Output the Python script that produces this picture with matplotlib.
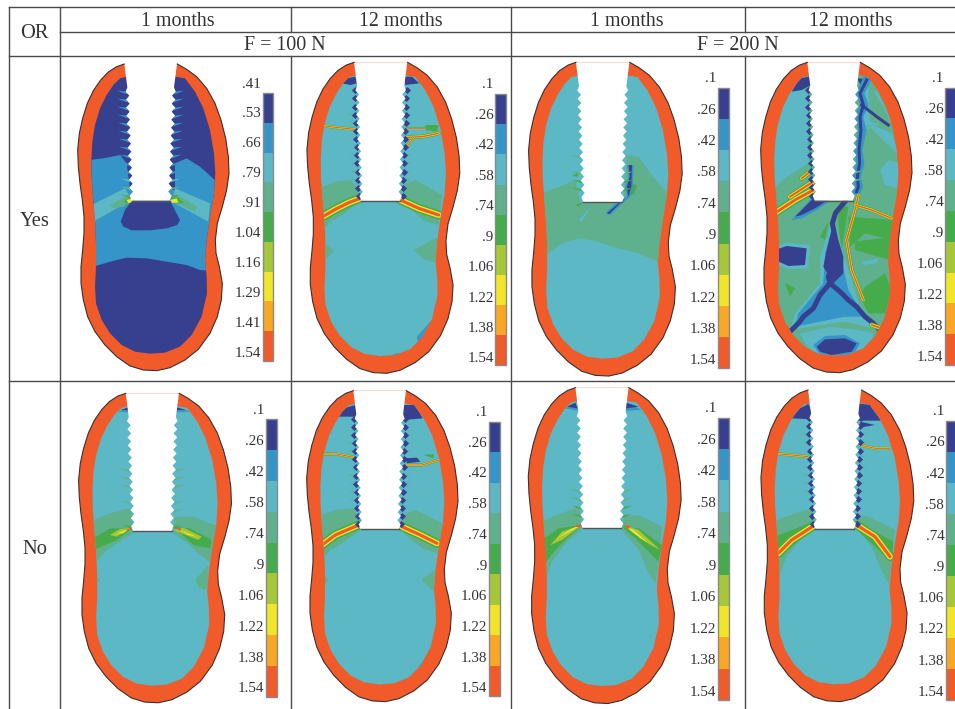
import matplotlib
matplotlib.use('Agg')
import matplotlib.pyplot as plt
import numpy as np
from matplotlib.patches import Polygon, Rectangle

plt.rcParams['font.family'] = ['Liberation Serif', 'DejaVu Serif']

LEVEL_COLORS = ['#36408f', '#3595c8', '#5bb8c4', '#5fb08c', '#46ab4a',
                '#a6c738', '#f0e527', '#f9a825', '#f15a29']
RED = LEVEL_COLORS[8]
LINE = '#4a4a4a'
TEXT = '#333333'

LABELS_A = ['.41', '.53', '.66', '.79', '.91', '1.04', '1.16', '1.29', '1.41', '1.54']
LABELS_B = ['.1', '.26', '.42', '.58', '.74', '.9', '1.06', '1.22', '1.38', '1.54']

HEAD_MONTHS = ['1 months', '12 months', '1 months', '12 months']
HEAD_MONTHS_X = [178, 401, 627, 851]
HEAD_FORCE = ['F = 100 N', 'F = 200 N']
HEAD_FORCE_X = [285, 738]
ROW_NAMES = ['Yes', 'No']
ROW_NAMES_Y = [221, 549]

# bone outline, in 3x crop units of the first panel
OUTER = [(193,42),(170,50),(145,66),(122,90),(100,122),(82,160),(68,205),(58,250),(53,300),
         (55,350),(60,400),(67,450),(72,500),(72,550),(68,600),(63,650),(63,700),(70,750),
         (83,800),(105,845),(135,885),(170,920),(210,948),(250,960),(290,962),(330,953),
         (375,930),(415,898),(450,850),(472,800),(484,750),(487,700),(478,650),(468,610),
         (466,570),(472,520),(487,470),(500,420),(507,370),(505,320),(497,265),(483,210),
         (465,160),(440,115),(410,80),(380,58),(352,42)]
INNER = [(203,80),(180,85),(160,105),(140,135),(120,175),(105,225),(97,275),(94,330),(95,385),
         (100,450),(105,510),(108,580),(108,650),(105,710),(108,760),(125,810),(150,850),
         (185,885),(225,905),(270,911),(315,908),(360,890),(395,855),(425,800),(441,730),
         (440,680),(435,630),(440,570),(450,500),(462,430),(466,370),(462,310),(450,240),
         (430,175),(405,125),(375,85),(345,80)]
THREAD_Y = [125,149,173,197,221,245,269,293,317,341,365,389,413,437]
THREAD_HW = [75,74,74,73,72,71,70,69,68,67,66,65,64,63]

# crop origin x, y, implant centre, top, x scale, y scale
P1_FRAME = (60, 50, 272, 42, 1.0, 1.0)
P2_FRAME = (292, 50, 266, 37, 1.01, 1.014)
P3_FRAME = (512, 50, 272, 37, 1.015, 1.023)
P4_FRAME = (745, 50, 266, 37, 1.0, 1.012)
P5_FRAME = (60, 380, 277, 40, 1.01, 1.009)
P6_FRAME = (292, 380, 263, 32, 1.0, 1.014)
P7_FRAME = (512, 380, 270, 23, 1.01, 1.03)
P8_FRAME = (745, 380, 269, 30, 1.01, 1.016)

# colour bars: x0, x1, y0, y1, label right, first label y, last label y
P1_BAR = (608, 640, 130, 932, 603, 102, 910)
P2_BAR = (610, 642, 133, 945, 605, 105, 927)
P3_BAR = (618, 652, 113, 955, 612, 87, 932)
P4_BAR = (600, 640, 113, 945, 595, 85, 922)
P5_BAR = (618, 652, 118, 950, 612, 92, 927)
P6_BAR = (590, 625, 125, 948, 585, 97, 927)
P7_BAR = (617, 651, 113, 960, 612, 87, 937)
P8_BAR = (602, 640, 122, 960, 598, 95, 937)

# filled contours (level, points) in crop units
P1_REGIONS = [
    (1, [(90,330),(130,325),(180,315),(200,340),(210,420),(345,420),(345,340),(380,325),(420,350),(470,395),(470,530),(445,662),(420,660),(380,645),(320,635),(260,625),(200,623),(150,635),(100,650),(90,500)]),
    (0, [(215,452),(330,452),(342,475),(360,510),(352,525),(320,535),(270,541),(215,541),(190,530),(182,515),(195,480)]),
    (2, [(95,465),(195,415),(215,450),(100,515)]),
    (2, [(345,415),(450,460),(445,515),(335,455)]),
    (3, [(150,465),(205,435),(215,452),(190,470),(160,475)]),
    (3, [(345,430),(410,470),(405,485),(340,455)]),
    (4, [(190,455),(212,440),(215,452),(200,460)]),
    (4, [(335,445),(350,440),(372,458),(350,462)]),
    (6, [(200,450),(215,445),(218,455),(205,460)]),
    (6, [(330,450),(350,445),(355,458),(335,458)]),
]
P2_REGIONS = [
    (3, [(80,415),(130,395),(175,390),(200,420),(205,455),(150,495),(115,515),(95,540),(85,530)]),
    (3, [(335,405),(370,390),(450,435),(440,525),(400,515),(370,490),(330,455)]),
    (3, [(90,575),(125,600),(105,625),(90,620)]),
    (3, [(440,560),(365,600),(400,630),(440,640)]),
    (1, [(375,860),(415,815),(430,820),(405,860),(380,890)]),
    (1, [(300,915),(320,908),(320,920)]),
    (4, [(400,225),(440,225),(435,245),(400,240)]),
    (0, [(150,100),(165,85),(190,80),(195,100),(175,105)]),
    (0, [(335,80),(360,80),(382,100),(340,105)]),
]
P2_CRACKS = [
    ([(92,500),(130,478),(170,458),(205,445)], 9),
    ([(325,450),(380,475),(440,495)], 9),
    ([(97,228),(130,232),(190,238)], 3),
    ([(345,262),(390,260),(440,250)], 4),
    ([(345,290),(365,262)], 3),
    ([(345,235),(400,235)], 2),
]
P3_REGIONS = [
    (3, [(85,430),(130,415),(190,390),(205,460),(335,460),(345,320),(380,320),(415,370),(470,435),(450,640),(380,610),(300,590),(250,572),(200,565),(150,580),(95,620)]),
    (2, [(200,510),(245,460),(225,490),(210,515)]),
    (4, [(355,400),(375,405),(365,435),(350,435)]),
    (4, [(190,465),(215,455),(200,470)]),
    (4, [(180,378),(200,365),(198,380)]),
    (1, [(280,490),(320,452),(345,440),(340,410),(350,380),(345,345),(365,345),(362,410),(355,440),(325,465),(295,495)]),
    (0, [(285,490),(322,458),(348,440),(345,410),(353,380),(350,345),(360,345),(358,410),(350,437),(322,462),(292,492)]),
]
P4_REGIONS = [
    (2, [(190,120),(130,120),(85,230),(80,420),(120,385),(190,340)]),
    (2, [(405,360),(430,330),(470,340),(470,420),(420,405)]),
    (2, [(345,240),(385,225),(440,250),(465,320),(380,235)]),
    (2, [(350,100),(400,130),(440,215),(390,225),(345,230)]),
    (3, [(370,100),(420,180),(440,230),(375,215)]),
    (4, [(310,500),(445,510),(440,570),(360,550),(315,590)]),
    (4, [(360,710),(420,670),(440,720),(420,790),(370,790),(345,740)]),
    (4, [(330,575),(445,560),(435,630),(330,600)]),
    (4, [(280,470),(310,470),(290,600),(280,520)]),
    (4, [(120,700),(150,715),(135,740)]),
    (4, [(225,560),(250,515),(240,570)]),
    (2, [(350,635),(400,625),(395,640),(355,645)]),
    (2, [(225,620),(265,500),(285,580),(320,690),(340,760),(405,840),(300,815),(135,840),(150,790),(225,700)]),
    (1, [(240,610),(265,520),(290,630),(310,720),(360,800),(300,800),(150,830),(160,790),(235,700)]),
    (2, [(165,850),(260,830),(340,840),(385,850),(375,890),(310,915),(215,915),(180,880)]),
    (1, [(205,885),(240,858),(300,855),(345,880),(325,915),(225,915)]),
    (0, [(215,890),(240,868),(300,865),(335,880),(320,905),(260,915),(225,905)]),
    (2, [(90,590),(125,578),(195,585),(190,655),(130,658),(90,640)]),
    (0, [(90,600),(125,588),(185,595),(180,645),(130,648),(90,630)]),
    (1, [(140,510),(205,440),(260,450),(215,480),(170,505)]),
    (0, [(150,500),(205,445),(250,450),(210,475),(170,495)]),
    (0, [(265,520),(245,600),(235,650),(265,700),(295,670),(295,620)]),
    (0, [(140,125),(165,85),(193,80),(198,105),(170,120)]),
    (0, [(335,85),(375,88),(352,112)]),
]
P4_BLUE_LINES = [
    ([(300,455),(272,488),(262,520),(270,560),(256,600),(264,640),(250,680),(255,700),(225,735),(205,775),(175,800),(165,815),(140,840)], 5, 0),
    ([(255,700),(285,725),(310,750),(335,770),(360,800),(385,820),(405,840)], 5, 0),
    ([(365,90),(345,130),(358,165),(342,200),(352,240),(340,300),(346,340),(335,380),(342,410),(335,425)], 8, 1),
    ([(365,90),(345,130),(355,165),(345,200),(348,240),(342,300),(344,340),(337,380),(340,410),(335,425)], 3, 0),
    ([(350,165),(395,200),(430,225)], 3, 0),
]
P4_CRACKS = [
    ([(340,435),(330,480),(305,570),(320,660),(355,750)], 4),
    ([(330,465),(380,480),(440,505)], 4),
    ([(92,488),(150,450),(205,420)], 8),
    ([(135,440),(205,395)], 6),
    ([(170,385),(195,365)], 5),
    ([(380,825),(410,835)], 5),
]
P5_REGIONS = [
    (3, [(90,425),(150,400),(210,385),(225,455),(170,490),(135,515),(105,550),(90,550)]),
    (3, [(345,410),(400,410),(475,440),(450,545),(420,525),(385,490),(340,460)]),
    (3, [(405,600),(445,555),(445,630),(420,625)]),
    (3, [(105,590),(120,600),(105,615)]),
    (4, [(100,475),(150,445),(215,445),(170,480),(135,495),(100,510)]),
    (4, [(340,440),(390,445),(455,480),(450,505),(400,495)]),
    (5, [(150,465),(180,447),(215,443),(170,470)]),
    (5, [(340,450),(370,443),(425,470),(415,480)]),
    (6, [(170,460),(205,447),(190,460)]),
    (6, [(360,450),(410,470),(385,465)]),
    (8, [(195,450),(215,443),(215,450)]),
    (8, [(345,445),(365,445),(360,452)]),
    (1, [(175,95),(205,82),(207,97)]),
    (1, [(350,82),(390,95),(350,97)]),
    (0, [(182,90),(205,82),(207,90)]),
    (0, [(350,82),(378,90),(350,90)]),
]
P6_REGIONS = [
    (3, [(75,410),(130,390),(185,385),(200,415),(205,450),(150,490),(115,510),(90,540),(80,530)]),
    (3, [(335,405),(370,390),(450,430),(440,520),(400,510),(365,485),(325,450)]),
    (3, [(90,575),(110,600),(90,620)]),
    (3, [(440,560),(390,600),(420,630),(440,630)]),
    (1, [(380,860),(415,815),(430,825),(395,885)]),
    (4, [(395,225),(425,222),(425,235)]),
    (0, [(140,110),(155,85),(190,75),(195,110)]),
    (0, [(333,75),(370,75),(392,115),(335,120)]),
    (0, [(340,235),(375,233),(385,245),(345,250)]),
]
P6_CRACKS = [
    ([(90,495),(130,465),(200,435)], 9),
    ([(330,440),(385,465),(435,490)], 9),
    ([(97,222),(135,222),(185,232)], 3),
    ([(345,255),(390,255),(440,240)], 3),
]
P7_REGIONS = [
    (3, [(85,425),(200,380),(212,445),(160,490),(120,545),(100,600),(90,600)]),
    (3, [(335,410),(380,405),(450,440),(440,550),(430,610),(410,580),(380,510),(330,450)]),
    (4, [(90,480),(140,445),(210,435),(165,475),(125,515),(100,550),(90,550)]),
    (4, [(330,440),(380,445),(450,495),(440,545),(410,515),(370,475)]),
    (5, [(115,495),(150,455),(210,435),(150,480)]),
    (5, [(335,435),(380,450),(445,510),(415,495)]),
    (6, [(135,475),(180,445),(205,437),(165,460)]),
    (6, [(340,440),(365,450),(410,490),(385,475)]),
    (8, [(185,440),(207,432),(205,442)]),
    (8, [(335,435),(355,438),(350,448)]),
    (1, [(160,85),(190,68),(197,92)]),
    (1, [(342,68),(390,90),(342,92)]),
    (0, [(165,80),(190,68),(197,85)]),
    (0, [(342,68),(380,80),(342,85)]),
]
P8_REGIONS = [
    (3, [(85,425),(135,405),(200,385),(210,440),(165,480),(125,530),(100,590),(90,590)]),
    (3, [(335,405),(370,410),(450,450),(440,540),(432,615),(410,570),(380,500),(335,445)]),
    (4, [(90,470),(205,425),(210,445),(100,530)]),
    (4, [(335,425),(445,485),(440,545),(330,445)]),
    (0, [(140,115),(165,85),(190,72),(203,100),(200,118)]),
    (0, [(340,70),(375,75),(408,122),(340,122)]),
    (0, [(345,125),(390,135),(350,142)]),
]
P8_CRACKS = [
    ([(100,520),(140,480),(205,438)], 9),
    ([(335,435),(390,470),(435,530)], 9),
    ([(102,222),(140,225),(190,230)], 3),
    ([(345,195),(390,205),(435,205)], 3),
]

# streak level at each thread tip (None = no streak)
P1_STREAK = [1, 1, 1, 1, 1, 1, 1, 1, 1, 1, 1, 2, 3, 4]
P2_STREAK = [None, None, None, 3, 3, None, None, None, 3, 3, 3, 3, None, None]
P3_STREAK = [None, None, None, None, None, None, None, None, 3, None, 3, 4, 4, None]
P4_STREAK = [None, None, None, None, None, None, None, None, None, None, 3, 3, None, None]
P5_STREAK = [None, None, None, None, None, None, 3, 3, 3, None, 3, 3, 3, 4]
P6_STREAK = [None, None, 3, 3, 3, None, None, 3, 3, 3, 3, None, None, None]
P7_STREAK = [None, None, None, None, None, None, None, None, None, 3, 3, 4, 4, None]
P8_STREAK = [None, None, 3, 3, None, None, 3, 3, 3, 3, None, None, None, None]


def to_px(points, frame):
    pts = np.array(points, dtype=float)
    return frame[:2] + pts / 3


def template(points, frame):
    pts = np.array(points, dtype=float)
    ox, oy, cx, top, sx, sy = frame
    x = cx + sx * (pts[:, 0] - 272)
    y = top + sy * (pts[:, 1] - 42)
    return np.column_stack([ox + x / 3, oy + y / 3])


def draw_crack(ax, points, width, frame, clip):
    xy = to_px(points, frame)
    for level, scale in ((4, 1.0), (6, 0.65), (8, 0.35)):
        line, = ax.plot(xy[:, 0], xy[:, 1], color=LEVEL_COLORS[level],
                        lw=max(width * scale, 0.8) * 0.72, solid_capstyle='round', zorder=4)
        line.set_clip_path(clip)


def draw_panel(ax, frame, bar, labels, base, regions, cracks, lines, streak, teeth):
    outer = template(OUTER, frame)
    ax.add_patch(Polygon(outer, closed=True, fc=RED, ec='none', zorder=2))
    ax.plot(outer[:, 0], outer[:, 1], color='#3a3030', lw=0.8, zorder=7)

    inner = Polygon(template(INNER, frame), closed=True, fc=LEVEL_COLORS[base], ec='none', zorder=3)
    ax.add_patch(inner)
    for level, pts in regions:
        p = Polygon(to_px(pts, frame), closed=True, fc=LEVEL_COLORS[level], ec='none', zorder=3.5)
        ax.add_patch(p)
        p.set_clip_path(inner)
    for pts, width, level in lines:
        xy = to_px(pts, frame)
        line, = ax.plot(xy[:, 0], xy[:, 1], color=LEVEL_COLORS[level], lw=width * 0.72, zorder=3.8)
        line.set_clip_path(inner)
    for pts, width in cracks:
        draw_crack(ax, pts, width, frame, inner)

    # thread tips: streaks and dark diamonds
    for y, hw, level in zip(THREAD_Y, THREAD_HW, streak):
        if level is None:
            continue
        for side in (-1, 1):
            tip = template([(272 + side * (hw - 4), y), (272 + side * (hw + 26), y - 3),
                            (272 + side * (hw - 4), y + 8)], frame)
            ax.add_patch(Polygon(tip, closed=True, fc=LEVEL_COLORS[level], ec='none', zorder=5))
    if teeth:
        for y, hw in zip(THREAD_Y, THREAD_HW):
            for side in teeth:
                tip = template([(272 + side * (hw + 2), y)], frame)
                ax.scatter(tip[:, 0], tip[:, 1], marker='D', s=13, color=LEVEL_COLORS[0],
                           linewidths=0, zorder=5)

    # implant
    left = [(193, 42), (202, 112)]
    for y, hw in zip(THREAD_Y, THREAD_HW):
        left += [(272 - hw, y), (272 - hw + 11, y + 12)]
    left[-1] = (215, 452)
    right = [(544 - x, y) for x, y in left[::-1]]
    edge = template(left + right, frame)
    ax.add_patch(Polygon(edge, closed=True, fc='white', ec='none', zorder=6))
    floor = template([(215, 452), (329, 452)], frame)
    ax.plot(floor[:, 0], floor[:, 1], color='#555555', lw=1.0, zorder=7)

    # colour bar
    x0, x1, y0, y1, lab_x, lab0, lab1 = bar
    edges = np.linspace(y0, y1, 10)
    ox, oy = frame[:2]
    for i, col in enumerate(LEVEL_COLORS):
        ax.add_patch(Rectangle((ox + x0 / 3, oy + edges[i] / 3), (x1 - x0) / 3,
                               (edges[i + 1] - edges[i]) / 3, fc=col, ec='none', zorder=2))
    ax.add_patch(Rectangle((ox + x0 / 3, oy + y0 / 3), (x1 - x0) / 3, (y1 - y0) / 3,
                           fc='none', ec='#8a8a8a', lw=1.0, zorder=2.5))
    for txt, yy in zip(labels, np.linspace(lab0, lab1, 10)):
        ax.text(ox + lab_x / 3, oy + yy / 3, txt, ha='right', va='center', fontsize=10.8,
                color=TEXT, zorder=8)


fig = plt.figure(figsize=(9.55, 7.09), dpi=100)
ax = fig.add_axes([0, 0, 1, 1])
ax.set_xlim(0, 955)
ax.set_ylim(709, 0)
ax.axis('off')

draw_panel(ax, P1_FRAME, P1_BAR, LABELS_A, 0, P1_REGIONS, [], [], P1_STREAK, None)
draw_panel(ax, P2_FRAME, P2_BAR, LABELS_B, 2, P2_REGIONS, P2_CRACKS, [], P2_STREAK, (-1, 1))
draw_panel(ax, P3_FRAME, P3_BAR, LABELS_B, 2, P3_REGIONS, [], [], P3_STREAK, None)
draw_panel(ax, P4_FRAME, P4_BAR, LABELS_B, 3, P4_REGIONS, P4_CRACKS, P4_BLUE_LINES, P4_STREAK, (-1,))
draw_panel(ax, P5_FRAME, P5_BAR, LABELS_B, 2, P5_REGIONS, [], [], P5_STREAK, None)
draw_panel(ax, P6_FRAME, P6_BAR, LABELS_B, 2, P6_REGIONS, P6_CRACKS, [], P6_STREAK, (-1, 1))
draw_panel(ax, P7_FRAME, P7_BAR, LABELS_B, 2, P7_REGIONS, [], [], P7_STREAK, None)
draw_panel(ax, P8_FRAME, P8_BAR, LABELS_B, 2, P8_REGIONS, P8_CRACKS, [], P8_STREAK, (-1, 1))

# table rules
ax.plot([9, 955], [7, 7], color=LINE, lw=1.0, zorder=1)
ax.plot([60, 955], [32, 32], color=LINE, lw=1.0, zorder=1)
ax.plot([9, 955], [56, 56], color=LINE, lw=1.0, zorder=1)
ax.plot([9, 955], [381, 381], color=LINE, lw=1.0, zorder=1)
ax.plot([9, 9], [7, 709], color=LINE, lw=1.0, zorder=1)
ax.plot([60, 60], [7, 709], color=LINE, lw=1.0, zorder=1)
ax.plot([291, 291], [7, 32], color=LINE, lw=1.0, zorder=1)
ax.plot([291, 291], [56, 709], color=LINE, lw=1.0, zorder=1)
ax.plot([511, 511], [7, 709], color=LINE, lw=1.0, zorder=1)
ax.plot([745, 745], [7, 32], color=LINE, lw=1.0, zorder=1)
ax.plot([745, 745], [56, 709], color=LINE, lw=1.0, zorder=1)

for txt, x in zip(HEAD_MONTHS, HEAD_MONTHS_X):
    ax.text(x, 22, txt, ha='center', va='center', fontsize=14.4, color=TEXT)
for txt, x in zip(HEAD_FORCE, HEAD_FORCE_X):
    ax.text(x, 46, txt, ha='center', va='center', fontsize=14.4, color=TEXT)
ax.text(34, 34, 'OR', ha='center', va='center', fontsize=14.8, color=TEXT)
for txt, y in zip(ROW_NAMES, ROW_NAMES_Y):
    ax.text(35, y, txt, ha='center', va='center', fontsize=14.8, color=TEXT)

fig.savefig('out.png', dpi=100)
